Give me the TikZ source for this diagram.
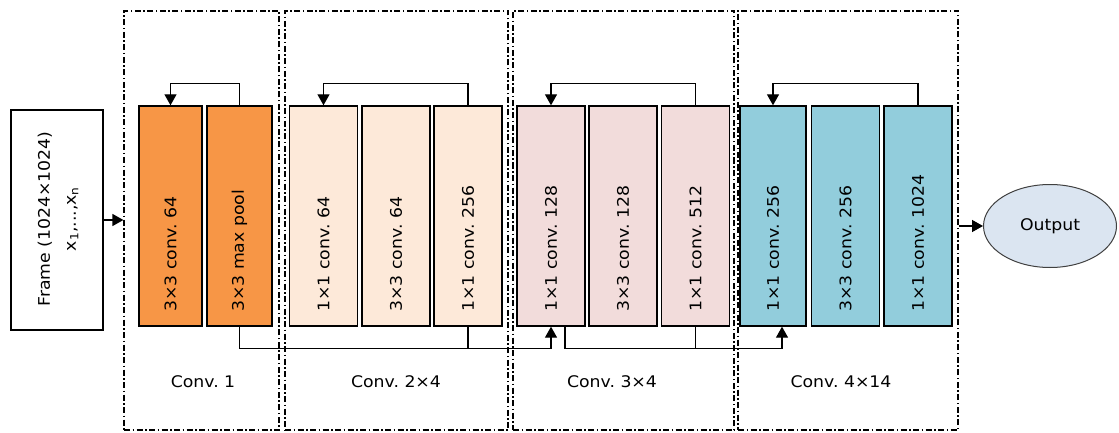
\documentclass[tikz,border=0pt]{standalone}
\usepackage{fontspec}
\setmainfont{DejaVu Sans}[FakeStretch=1.08]
\usetikzlibrary{arrows.meta,shapes.geometric}

\definecolor{convone}{HTML}{F79646}
\definecolor{convtwo}{HTML}{FDE9D9}
\definecolor{convthree}{HTML}{F2DCDB}
\definecolor{convfour}{HTML}{92CDDC}
\definecolor{outfill}{HTML}{DBE5F1}

\tikzset{
    layer/.style={draw, line width=1.4pt, minimum width=68pt, minimum height=220pt, inner sep=0pt},
    layertext/.style={rotate=90, anchor=west, inner sep=0pt},
    group/.style={draw, line width=1.2pt, dash pattern=on 6pt off 2.5pt on 1.5pt off 2.5pt, minimum height=419pt, inner sep=0pt},
    link/.style={line width=1.3pt},
    tip/.style={-{Triangle[width=12pt,length=11pt]}}
}

\begin{document}
\begin{tikzpicture}[x=1pt, y=-1pt, font=\fontsize{16}{19}\selectfont]
        \useasboundingbox (0,0) rectangle (1119,433);

        % stage boxes
        \node[group, minimum width=155pt] (g1) at (201.5,220.5) {};
        \node[group, minimum width=223pt] (g2) at (396.5,220.5) {};
        \node[group, minimum width=221pt] (g3) at (623.5,220.5) {};
        \node[group, minimum width=220pt] (g4) at (848,220.5) {};

        % input
        \node[draw, line width=1.3pt, minimum width=92pt, minimum height=220pt] (frame) at (57,220) {};
        \node[rotate=90, align=center, font=\fontsize{16}{26}\selectfont] (frametext) at (58,219) {Frame (1024×1024)\\x\textsubscript{1},...,x\textsubscript{n}};

        % Conv. 1
        \node[layer, fill=convone, minimum width=63pt] (c1a) at (170.5,216) {};
        \node[layer, fill=convone, minimum width=65pt] (c1b) at (239.5,216) {};
        \node[layertext] (t1a) at (170.5,312) {3×3 conv.\ 64};
        \node[layertext] (t1b) at (239.5,312) {3×3 max pool};

        % Conv. 2x4
        \node[layer, fill=convtwo] (c2a) at (323.5,216) {};
        \node[layer, fill=convtwo] (c2b) at (396,216) {};
        \node[layer, fill=convtwo] (c2c) at (468,216) {};
        \node[layertext] (t2a) at (323.5,312) {1×1 conv.\ 64};
        \node[layertext] (t2b) at (396,312) {3×3 conv.\ 64};
        \node[layertext] (t2c) at (468,312) {1×1 conv.\ 256};

        % Conv. 3x4
        \node[layer, fill=convthree] (c3a) at (551,216) {};
        \node[layer, fill=convthree] (c3b) at (623,216) {};
        \node[layer, fill=convthree] (c3c) at (695.5,216) {};
        \node[layertext] (t3a) at (551,312) {1×1 conv.\ 128};
        \node[layertext] (t3b) at (623,312) {3×3 conv.\ 128};
        \node[layertext] (t3c) at (695.5,312) {1×1 conv.\ 512};

        % Conv. 4x14
        \node[layer, fill=convfour, minimum width=66pt] (c4a) at (773,216) {};
        \node[layer, fill=convfour] (c4b) at (845.5,216) {};
        \node[layer, fill=convfour] (c4c) at (918,216) {};
        \node[layertext] (t4a) at (773,312) {1×1 conv.\ 256};
        \node[layertext] (t4b) at (845.5,312) {3×3 conv.\ 256};
        \node[layertext] (t4c) at (918,312) {1×1 conv.\ 1024};

        % stage names
        \node (l1) at (203,382) {Conv.\ 1};
        \node (l2) at (396,382) {Conv.\ 2×4};
        \node (l3) at (612,382) {Conv.\ 3×4};
        \node (l4) at (841,382) {Conv.\ 4×14};

        % output
        \node[ellipse, draw=black!75, fill=outfill, line width=1pt, minimum width=133pt, minimum height=83pt, inner sep=0pt] (out) at (1050,226) {Output};

        \draw[link, tip] (frame.east) -- (frame.east -| g1.west);
        \draw[link, tip] (g4.east |- out.west) -- (out.west);

        % loops on top
        \draw[link, tip] (c1b.north) -- ++(0,-22) -| (c1a.north);
        \draw[link, tip] (c2c.north) -- ++(0,-22) -| (c2a.north);
        \draw[link, tip] (c3c.north) -- ++(0,-22) -| (c3a.north);
        \draw[link, tip] (c4c.north) -- ++(0,-22) -| (c4a.north);

        % skips below
        \draw[link, tip] (c1b.south) -- ++(0,22) -| (c3a.south);
        \draw[link] (c2c.south) -- ++(0,22);
        \draw[link, tip] ([xshift=14pt]c3a.south) -- ++(0,22) -| ([xshift=9pt]c4a.south);
        \draw[link] (c3c.south) -- ++(0,22);
    \end{tikzpicture}
\end{document}
